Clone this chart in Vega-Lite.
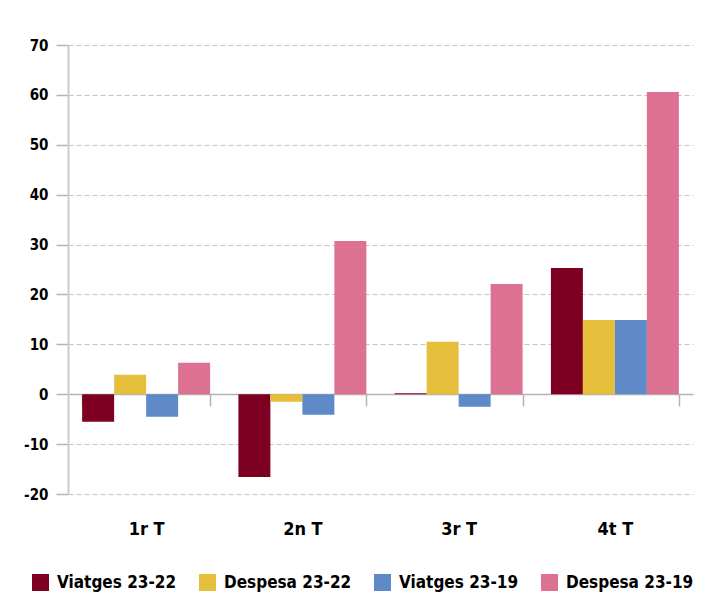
{
  "$schema": "https://vega.github.io/schema/vega-lite/v6.json",
  "width": 625,
  "height": 449,
  "autosize": "none",
  "padding": {"left": 68, "top": 45, "right": 33, "bottom": 114},
  "background": "white",
  "config": {
    "view": {"stroke": null},
    "font": "DejaVu Sans Condensed, DejaVu Sans, sans-serif",
    "axis": {"labelFont": "DejaVu Sans Condensed, DejaVu Sans, sans-serif", "labelFontWeight": "bold", "labelColor": "#000000"},
    "legend": {"labelFont": "DejaVu Sans Condensed, DejaVu Sans, sans-serif", "labelFontWeight": "bold", "labelColor": "#000000"}
  },
  "data": {
    "values": [
      {"trimestre": "1r T", "serie": "Viatges 23-22", "valor": -5.5},
      {"trimestre": "1r T", "serie": "Despesa 23-22", "valor": 3.9},
      {"trimestre": "1r T", "serie": "Viatges 23-19", "valor": -4.5},
      {"trimestre": "1r T", "serie": "Despesa 23-19", "valor": 6.3},
      {"trimestre": "2n T", "serie": "Viatges 23-22", "valor": -16.6},
      {"trimestre": "2n T", "serie": "Despesa 23-22", "valor": -1.5},
      {"trimestre": "2n T", "serie": "Viatges 23-19", "valor": -4.1},
      {"trimestre": "2n T", "serie": "Despesa 23-19", "valor": 30.7},
      {"trimestre": "3r T", "serie": "Viatges 23-22", "valor": 0.2},
      {"trimestre": "3r T", "serie": "Despesa 23-22", "valor": 10.5},
      {"trimestre": "3r T", "serie": "Viatges 23-19", "valor": -2.5},
      {"trimestre": "3r T", "serie": "Despesa 23-19", "valor": 22.1},
      {"trimestre": "4t T", "serie": "Viatges 23-22", "valor": 25.3},
      {"trimestre": "4t T", "serie": "Despesa 23-22", "valor": 14.9},
      {"trimestre": "4t T", "serie": "Viatges 23-19", "valor": 14.9},
      {"trimestre": "4t T", "serie": "Despesa 23-19", "valor": 60.6}
    ]
  },
  "mark": {"type": "bar"},
  "encoding": {
    "x": {
      "field": "trimestre",
      "type": "nominal",
      "sort": ["1r T", "2n T", "3r T", "4t T"],
      "scale": {"paddingInner": 0.181, "paddingOuter": 0.0905},
      "axis": {
        "title": null,
        "orient": "bottom",
        "offset": -100,
        "labelAngle": 0,
        "domain": true,
        "domainColor": "#b4b4b4",
        "domainWidth": 1.5,
        "ticks": true,
        "tickBand": "extent",
        "tickSize": 12,
        "tickColor": "#b4b4b4",
        "tickWidth": 1.5,
        "grid": false,
        "labelFontSize": 18,
        "labelPadding": 114,
        "labelBaseline": "top"
      }
    },
    "xOffset": {
      "field": "serie",
      "type": "nominal",
      "sort": ["Viatges 23-22", "Despesa 23-22", "Viatges 23-19", "Despesa 23-19"],
      "scale": {"paddingInner": 0, "paddingOuter": 0}
    },
    "y": {
      "field": "valor",
      "type": "quantitative",
      "scale": {"domain": [-20, 70], "nice": false},
      "axis": {
        "title": null,
        "values": [-20, -10, 0, 10, 20, 30, 40, 50, 60, 70],
        "labelExpr": "'' + datum.value",
        "domain": true,
        "domainColor": "#cccccc",
        "domainWidth": 2,
        "ticks": true,
        "tickSize": 12,
        "tickColor": "#b4b4b4",
        "tickWidth": 1.5,
        "grid": true,
        "gridColor": "#c4c4c4",
        "gridDash": [5, 3],
        "gridWidth": 1.2,
        "labelFontSize": 15,
        "labelPadding": 8
      }
    },
    "color": {
      "field": "serie",
      "type": "nominal",
      "sort": ["Viatges 23-22", "Despesa 23-22", "Viatges 23-19", "Despesa 23-19"],
      "scale": {
        "domain": ["Viatges 23-22", "Despesa 23-22", "Viatges 23-19", "Despesa 23-19"],
        "range": ["#7d0023", "#e5bf3c", "#5e8bc8", "#dd7192"]
      },
      "legend": {
        "title": null,
        "orient": "none",
        "legendX": -36,
        "legendY": 529,
        "direction": "horizontal",
        "columns": 4,
        "columnPadding": 22,
        "padding": 0,
        "symbolType": "square",
        "symbolSize": 289,
        "symbolStrokeWidth": 0,
        "labelFontSize": 17,
        "labelOffset": 8,
        "labelLimit": 300
      }
    }
  }
}
